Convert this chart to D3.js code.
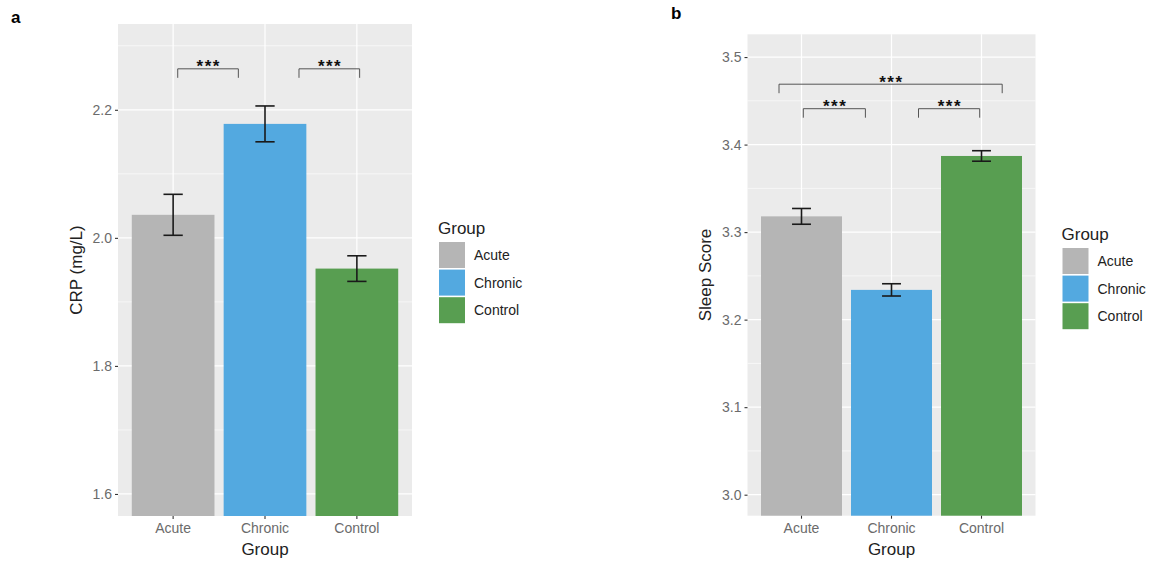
<!DOCTYPE html>
<html>
<head>
<meta charset="utf-8">
<script src="https://cdn.jsdelivr.net/npm/d3@7"></script>
<style>
  body { margin: 0; background: #fff; }
  svg { display: block; font-family: "Liberation Sans", Arial, sans-serif; }
</style>
</head>
<body>
<svg id="chart" width="1155" height="562"></svg>
<script>
// ---- data ----
const categories = ["Acute", "Chronic", "Control"];
const colors = ["#b5b5b5", "#53a9e0", "#589e51"];

const crpMean = [2.036, 2.178, 1.952];
const crpSE   = [0.032, 0.028, 0.020];
const crpTicks = [1.6, 1.8, 2.0, 2.2];
const crpMinor = [1.7, 1.9, 2.1, 2.3];
// brackets: [xStart, xEnd, y, label] (x in category index units)
const crpBrackets = [[0.05, 0.71, 2.264, "***"], [1.37, 2.03, 2.264, "***"]];

const sleepMean = [3.318, 3.234, 3.387];
const sleepSE   = [0.009, 0.007, 0.006];
const sleepTicks = [3.0, 3.1, 3.2, 3.3, 3.4, 3.5];
const sleepMinor = [3.05, 3.15, 3.25, 3.35, 3.45];
const sleepBrackets = [[-0.25, 2.23, 3.469, "***"], [0.02, 0.71, 3.441, "***"], [1.30, 1.98, 3.441, "***"]];

const svg = d3.select("#chart");

function panel(cfg) {
  const g = svg.append("g");
  const x = d3.scaleBand().domain(categories).range([cfg.left, cfg.right])
    .paddingInner(0.1).paddingOuter(0.15);
  const y = d3.scaleLinear().domain(cfg.yDomain).range([cfg.bottom, cfg.top]);
  const step = x.step();
  const cx = i => x(categories[0]) + x.bandwidth() / 2 + i * step;

  // background
  g.append("rect").attr("x", cfg.left).attr("y", cfg.top)
    .attr("width", cfg.right - cfg.left).attr("height", cfg.bottom - cfg.top)
    .attr("fill", "#ebebeb");
  // minor grid
  g.selectAll(".minor").data(cfg.minor.filter(v => y(v) > cfg.top && y(v) < cfg.bottom)).enter()
    .append("line").attr("x1", cfg.left).attr("x2", cfg.right)
    .attr("y1", d => y(d)).attr("y2", d => y(d))
    .attr("stroke", "#fff").attr("stroke-width", 0.6);
  // major grid
  g.selectAll(".major").data(cfg.ticks).enter()
    .append("line").attr("x1", cfg.left).attr("x2", cfg.right)
    .attr("y1", d => y(d)).attr("y2", d => y(d))
    .attr("stroke", "#fff").attr("stroke-width", 1.2);
  g.selectAll(".vgrid").data(categories).enter()
    .append("line").attr("x1", d => x(d) + x.bandwidth() / 2).attr("x2", d => x(d) + x.bandwidth() / 2)
    .attr("y1", cfg.top).attr("y2", cfg.bottom)
    .attr("stroke", "#fff").attr("stroke-width", 1.2);

  // bars
  g.selectAll(".bar").data(cfg.means).enter()
    .append("rect")
    .attr("x", (d, i) => x(categories[i]))
    .attr("width", x.bandwidth())
    .attr("y", d => y(d))
    .attr("height", d => cfg.bottom - y(d))
    .attr("fill", (d, i) => colors[i]);

  // error bars
  const half = 0.105 * step;
  cfg.means.forEach((m, i) => {
    const c = cx(i), lo = y(m - cfg.se[i]), hi = y(m + cfg.se[i]);
    const eb = g.append("g").attr("stroke", "#1a1a1a").attr("stroke-width", 1.6).attr("fill", "none");
    eb.append("line").attr("x1", c).attr("x2", c).attr("y1", hi).attr("y2", lo);
    eb.append("line").attr("x1", c - half).attr("x2", c + half).attr("y1", hi).attr("y2", hi);
    eb.append("line").attr("x1", c - half).attr("x2", c + half).attr("y1", lo).attr("y2", lo);
  });

  // significance brackets
  cfg.brackets.forEach(b => {
    const x1 = cx(b[0]), x2 = cx(b[1]), yy = y(b[2]), tip = yy + cfg.tip;
    g.append("path").attr("d", `M${x1},${tip}V${yy}H${x2}V${tip}`)
      .attr("fill", "none").attr("stroke", "#444").attr("stroke-width", 0.9);
    g.append("text").attr("x", (x1 + x2) / 2 + 0.75).attr("y", yy + 3.5)
      .attr("text-anchor", "middle").attr("font-size", 17).attr("font-weight", "bold")
      .attr("letter-spacing", 1.5)
      .attr("fill", "#111").text(b[3]);
  });

  // y axis
  const yAxis = g.append("g").attr("transform", `translate(${cfg.left},0)`)
    .call(d3.axisLeft(y).tickValues(cfg.ticks).tickSize(3).tickPadding(3).tickFormat(d3.format(".1f")));
  yAxis.select(".domain").remove();
  yAxis.selectAll("line").attr("stroke", "#333").attr("stroke-width", 1.1);
  yAxis.selectAll("text").attr("font-size", 14).attr("fill", "#6b6b6b")
    .attr("font-family", "'Liberation Sans', Arial, sans-serif");

  // x axis
  const xAxis = g.append("g").attr("transform", `translate(0,${cfg.bottom})`)
    .call(d3.axisBottom(x).tickSize(3).tickPadding(4));
  xAxis.select(".domain").remove();
  xAxis.selectAll("line").attr("stroke", "#333").attr("stroke-width", 1.1);
  xAxis.selectAll("text").attr("font-size", 14).attr("fill", "#6b6b6b")
    .attr("font-family", "'Liberation Sans', Arial, sans-serif");

  // axis titles
  g.append("text").attr("x", (cfg.left + cfg.right) / 2).attr("y", cfg.bottom + 39)
    .attr("text-anchor", "middle").attr("font-size", 17).attr("fill", "#222").text("Group");
  g.append("text")
    .attr("transform", `translate(${cfg.ytitleX},${(cfg.top + cfg.bottom) / 2}) rotate(-90)`)
    .attr("text-anchor", "middle").attr("font-size", 17).attr("fill", "#222").text(cfg.ytitle);

  // legend
  const lg = svg.append("g").attr("transform", `translate(${cfg.legX},${cfg.legY})`);
  lg.append("text").attr("x", -1).attr("y", -8).attr("font-size", 17).attr("fill", "#222").text("Group");
  categories.forEach((c, i) => {
    lg.append("rect").attr("x", 0).attr("y", i * 27.6).attr("width", 26).attr("height", 26)
      .attr("fill", colors[i]);
    lg.append("text").attr("x", 35).attr("y", i * 27.6 + 13).attr("dy", "0.35em")
      .attr("font-size", 14).attr("fill", "#222").text(c);
  });

  // panel letter
  svg.append("text").attr("x", cfg.letterX).attr("y", cfg.letterY)
    .attr("font-size", 17).attr("font-weight", "bold").attr("fill", "#000").text(cfg.letter);
}

panel({
  left: 118, right: 412, top: 24, bottom: 516,
  yDomain: [1.5656, 2.334], means: crpMean, se: crpSE,
  ticks: crpTicks, minor: crpMinor, brackets: crpBrackets, tip: 9,
  ytitle: "CRP (mg/L)", ytitleX: 82,
  legX: 439, legY: 242, letter: "a", letterX: 11, letterY: 23
});

panel({
  left: 747.5, right: 1035.5, top: 34.3, bottom: 515.7,
  yDomain: [2.976, 3.526], means: sleepMean, se: sleepSE,
  ticks: sleepTicks, minor: sleepMinor, brackets: sleepBrackets, tip: 9,
  ytitle: "Sleep Score", ytitleX: 711,
  legX: 1062.5, legY: 248, letter: "b", letterX: 671, letterY: 19
});
</script>
</body>
</html>
